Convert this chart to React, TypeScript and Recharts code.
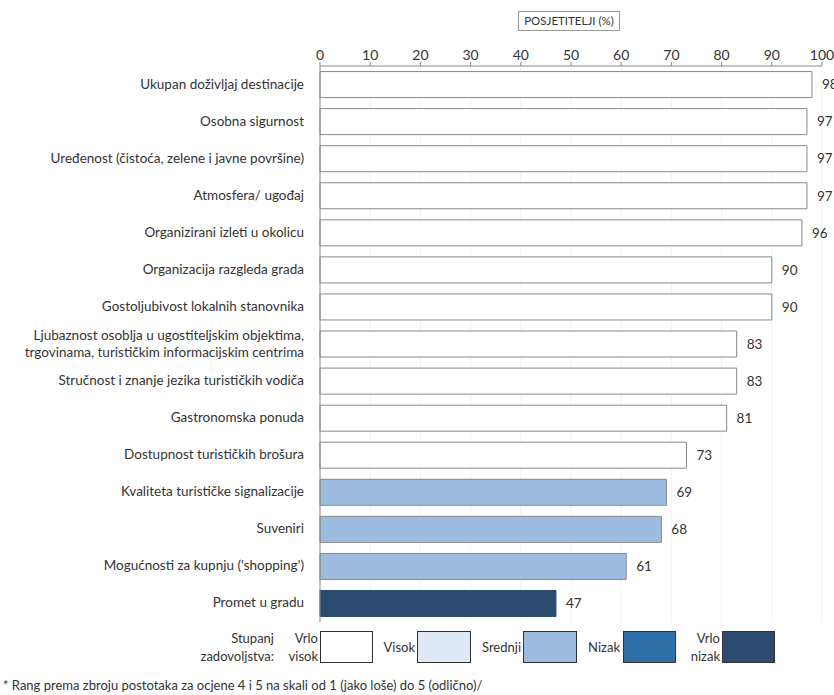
import { BarChart, Bar, XAxis, YAxis, CartesianGrid, Cell, LabelList } from 'recharts';

const categories = [
  'Ukupan doživljaj destinacije',
  'Osobna sigurnost',
  'Uređenost (čistoća, zelene i javne površine)',
  'Atmosfera/ ugođaj',
  'Organizirani izleti u okolicu',
  'Organizacija razgleda grada',
  'Gostoljubivost lokalnih stanovnika',
  'Ljubaznost osoblja u ugostiteljskim objektima,\ntrgovinama, turističkim informacijskim centrima',
  'Stručnost i znanje jezika turističkih vodiča',
  'Gastronomska ponuda',
  'Dostupnost turističkih brošura',
  'Kvaliteta turističke signalizacije',
  'Suveniri',
  "Mogućnosti za kupnju ('shopping')",
  'Promet u gradu',
];

const values = [98, 97, 97, 97, 96, 90, 90, 83, 83, 81, 73, 69, 68, 61, 47];

// satisfaction level per bar: 0 vrlo visok .. 4 vrlo nizak
const levels = [0, 0, 0, 0, 0, 0, 0, 0, 0, 0, 0, 2, 2, 2, 4];

const xTicks = [0, 10, 20, 30, 40, 50, 60, 70, 80, 90, 100];

const legendItems = [
  { label: 'Vrlo\nvisok', color: '#FFFFFF' },
  { label: 'Visok', color: '#DDE9F5' },
  { label: 'Srednji', color: '#9DBDE0' },
  { label: 'Nizak', color: '#2F6FAA' },
  { label: 'Vrlo\nnizak', color: '#2B4B70' },
];

const FONT = 'Lato, "Open Sans", sans-serif';
const TEXT = '#333333';

const data = categories.map((name, i) => ({ name, value: values[i], level: levels[i] }));

function CategoryTick({ x, y, payload }: any) {
  const lines = String(payload.value).split('\n');
  const lh = 17;
  const start = -((lines.length - 1) * lh) / 2;
  return (
    <text x={x} y={y} textAnchor="end" fontSize={13.5} fill={TEXT} fontFamily={FONT}>
      {lines.map((l, i) => (
        <tspan key={i} x={x} dy={i === 0 ? start + 4 : lh}>
          {l}
        </tspan>
      ))}
    </text>
  );
}

function Legend() {
  const boxes = [
    { left: 320, width: 53, textRight: 318 },
    { left: 417, width: 54, textRight: 415 },
    { left: 523, width: 54, textRight: 521 },
    { left: 623, width: 53, textRight: 620 },
    { left: 722, width: 53, textRight: 720 },
  ];
  const textStyle = {
    position: 'absolute' as const,
    textAlign: 'right' as const,
    fontSize: 13,
    lineHeight: '18px',
    color: TEXT,
    fontFamily: FONT,
    whiteSpace: 'pre' as const,
  };
  return (
    <>
      <div style={{ ...textStyle, right: 834 - 274, top: 629 }}>
        {'Stupanj\nzadovoljstva:'}
      </div>
      {legendItems.map((item, i) => {
        const b = boxes[i];
        const lines = item.label.split('\n');
        return (
          <div key={item.label}>
            <div style={{ ...textStyle, right: 834 - b.textRight, top: lines.length > 1 ? 629 : 638 }}>
              {item.label}
            </div>
            <div
              style={{
                position: 'absolute',
                left: b.left,
                top: 631,
                width: b.width,
                height: 32,
                boxSizing: 'border-box',
                background: item.color,
                border: '1px solid #333',
              }}
            />
          </div>
        );
      })}
    </>
  );
}

export default function App() {
  return (
    <div
      style={{
        position: 'absolute',
        left: 0,
        top: 0,
        width: 834,
        height: 695,
        background: '#fff',
        fontFamily: FONT,
        overflow: 'hidden',
      }}
    >
      <div
        style={{
          position: 'absolute',
          left: 518,
          top: 11,
          width: 102,
          height: 20,
          boxSizing: 'border-box',
          border: '1px solid #999',
          fontSize: 11.5,
          lineHeight: '18px',
          textAlign: 'center',
          color: TEXT,
        }}
      >
        POSJETITELJI (%)
      </div>
      <BarChart
        width={834}
        height={630}
        data={data}
        layout="vertical"
        margin={{ top: 36, right: 12, left: 0, bottom: 8 }}
        barCategoryGap="15%"
      >
        <CartesianGrid horizontal={false} stroke="#F2F2F2" />
        <XAxis
          type="number"
          orientation="top"
          domain={[0, 100]}
          ticks={xTicks}
          height={30}
          interval={0}
          tick={{ fontSize: 14, fill: TEXT, fontFamily: FONT }}
          axisLine={{ stroke: '#888' }}
          tickLine={{ stroke: '#888' }}
          tickSize={4}
        />
        <YAxis
          type="category"
          dataKey="name"
          width={320}
          interval={0}
          tick={<CategoryTick />}
          tickLine={false}
          tickMargin={10}
          axisLine={{ stroke: '#888' }}
        />
        <Bar dataKey="value" stroke="#888" strokeWidth={1} isAnimationActive={false}>
          {data.map((d, i) => (
            <Cell key={i} fill={legendItems[d.level].color} stroke={d.level === 4 ? '#2B4B70' : '#888'} />
          ))}
          <LabelList
            dataKey="value"
            position="right"
            offset={10}
            style={{ fontSize: 13.5, fill: TEXT, fontFamily: FONT }}
          />
        </Bar>
      </BarChart>
      <Legend />
      <div
        style={{
          position: 'absolute',
          left: 3,
          top: 677,
          fontSize: 13,
          color: TEXT,
          whiteSpace: 'nowrap',
        }}
      >
        * Rang prema zbroju postotaka za ocjene 4 i 5 na skali od 1 (jako loše) do 5 (odlično)/
      </div>
    </div>
  );
}
